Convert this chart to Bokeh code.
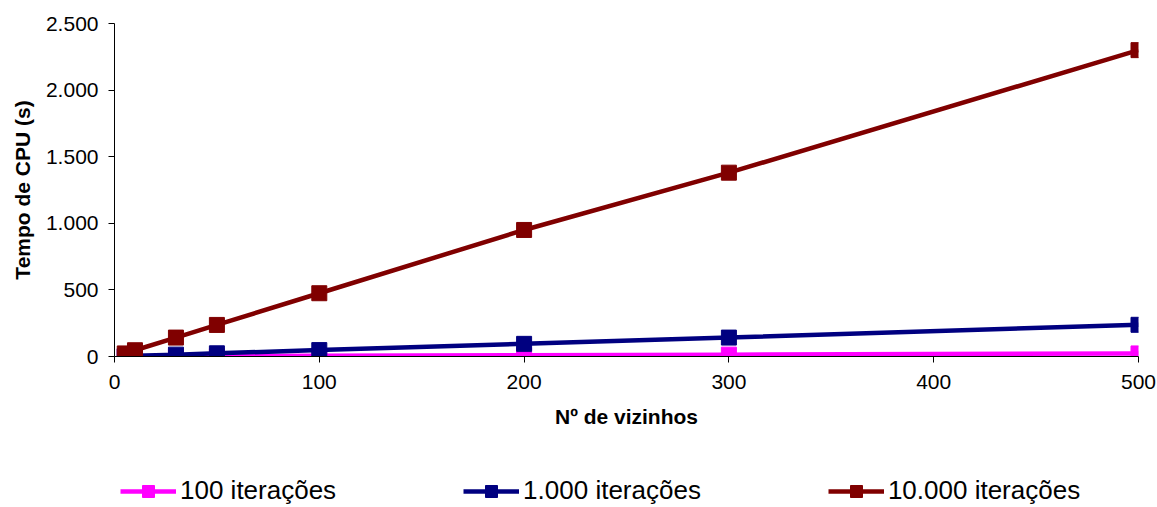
from bokeh.plotting import figure
from bokeh.models import ColumnDataSource, Range1d, Legend, LegendItem, FixedTicker
from bokeh.layouts import column
from bokeh.embed import file_html
from bokeh.resources import INLINE

# ---- data ----
vizinhos = [5, 10, 30, 50, 100, 200, 300, 500]
it_100 = [0.25, 0.5, 1.4, 2.4, 4.8, 9.5, 14, 23]
it_1000 = [2.5, 5, 14, 24, 48, 95, 142, 238]
it_10000 = [23, 47, 142, 237, 475, 950, 1380, 2300]

series_names = ["100 iterações", "1.000 iterações", "10.000 iterações"]
series_colors = ["#FF00FF", "#000080", "#800000"]

x_ticks = [0, 100, 200, 300, 400, 500]
y_ticks = [0, 500, 1000, 1500, 2000, 2500]
y_tick_labels = ["0", "500", "1.000", "1.500", "2.000", "2.500"]

x_title = "Nº de vizinhos"
y_title = "Tempo de CPU (s)"

FONT = "Liberation Sans"

# ---- main chart ----
p = figure(width=1157, height=456, output_backend="svg", toolbar_location=None,
           x_range=Range1d(0, 500), y_range=Range1d(0, 2500),
           min_border_left=114, min_border_right=19, min_border_top=23,
           min_border_bottom=100)
p.outline_line_color = None
p.grid.visible = False
p.background_fill_color = "white"
p.border_fill_color = "white"

for vals, col in zip([it_100, it_1000, it_10000], series_colors):
    src = ColumnDataSource(dict(x=vizinhos, y=vals))
    p.line("x", "y", source=src, line_color=col, line_width=4.5)
    p.scatter("x", "y", source=src, marker="square", size=15,
              fill_color=col, line_color=col)

for ax in (p.xaxis[0], p.yaxis[0]):
    ax.axis_line_color = "#000000"
    ax.axis_line_width = 1
    ax.major_tick_line_color = "#000000"
    ax.major_tick_out = 6
    ax.major_tick_in = 0
    ax.minor_tick_line_color = None
    ax.major_label_text_font = FONT
    ax.major_label_text_font_size = "21px"
    ax.major_label_text_color = "#000000"
    ax.axis_label_text_font = FONT
    ax.axis_label_text_font_style = "bold"
    ax.axis_label_text_font_size = "21px"
    ax.axis_label_text_color = "#000000"

p.xaxis[0].ticker = FixedTicker(ticks=x_ticks)
p.yaxis[0].ticker = FixedTicker(ticks=y_ticks)
p.yaxis[0].major_label_overrides = {t: l for t, l in zip(y_ticks, y_tick_labels)}
p.xaxis[0].axis_label = x_title
p.yaxis[0].axis_label = y_title
p.xaxis[0].major_label_standoff = 12
p.xaxis[0].axis_label_standoff = 13
p.yaxis[0].major_label_standoff = 10
p.yaxis[0].axis_label_standoff = 9

# ---- legend strip ----
lg = figure(width=1157, height=51, output_backend="svg", toolbar_location=None,
            x_range=Range1d(0, 1), y_range=Range1d(0, 1),
            x_axis_location=None, y_axis_location=None,
            min_border_left=0, min_border_right=0, min_border_top=0,
            min_border_bottom=0)
lg.outline_line_color = None
lg.grid.visible = False

items = []
for name, col in zip(series_names, series_colors):
    src = ColumnDataSource(dict(x=[10, 11], y=[10, 11]))
    ln = lg.line("x", "y", source=src, line_color=col, line_width=4.5)
    sc = lg.scatter("x", "y", source=src, marker="square", size=15,
                    fill_color=col, line_color=col)
    items.append(LegendItem(label=name, renderers=[ln, sc]))

legend = Legend(items=items, orientation="horizontal", location=(6, 1),
                glyph_width=56, glyph_height=30, label_height=30,
                label_standoff=4, spacing=127, padding=0, margin=0,
                border_line_color=None, background_fill_alpha=0,
                label_text_font=FONT, label_text_font_size="26px",
                label_text_color="#000000")
lg.add_layout(legend, "center")

layout = column(p, lg, spacing=0)
open("out.html", "w").write(file_html(layout, INLINE))
